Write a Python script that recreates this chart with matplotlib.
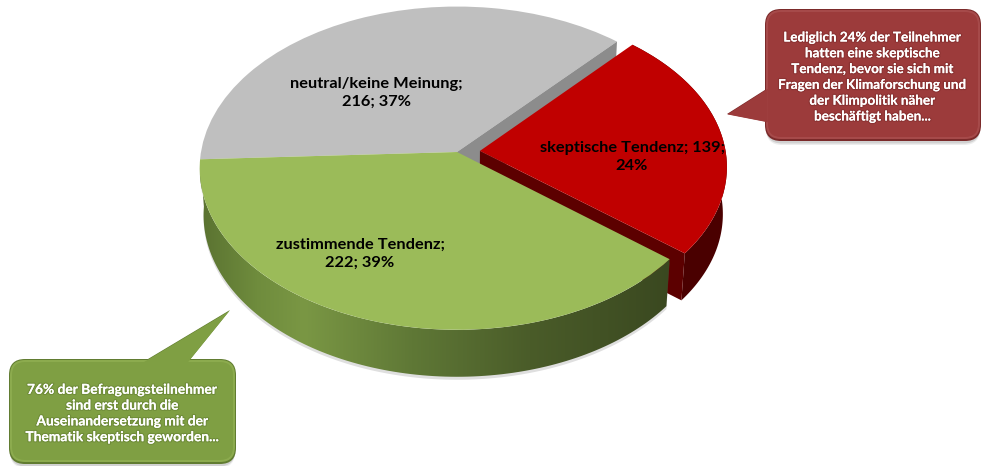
import numpy as np
import matplotlib
matplotlib.use('Agg')
import matplotlib.pyplot as plt
import matplotlib.transforms as mtransforms
import matplotlib.patheffects as pe
from matplotlib.colors import LinearSegmentedColormap
from matplotlib.patches import FancyBboxPatch, Polygon

# Daten
names = ['neutral/keine Meinung', 'skeptische Tendenz', 'zustimmende Tendenz']
values = [216, 139, 222]
percents = [37, 24, 39]
colors = ['#BFBFBF', '#C00000', '#9BBB59']
explode = [0, 0.09, 0]
text_red = ('Lediglich 24% der Teilnehmer\nhatten eine skeptische\nTendenz, bevor sie sich mit\n'
            'Fragen der Klimaforschung und\nder Klimpolitik näher\nbeschäftigt haben...')
text_green = ('76% der Befragungsteilnehmer\nsind erst durch die\nAuseinandersetzung mit der\n'
              'Thematik skeptisch geworden...')

W, H = 981, 466
CX, CY = 457, 152
RX, RY, K = 256, 160, 0.10
DEPTH = 47


class Persp(mtransforms.Transform):
    # Einheitskreis -> gekippte Scheibe in Pixelkoordinaten
    input_dims = 2
    output_dims = 2
    is_separable = False
    has_inverse = False

    def transform_non_affine(self, values):
        values = np.asarray(values, dtype=float)
        x, y = values[:, 0], values[:, 1]
        d = 1 + K * y
        return np.column_stack([CX + RX * x / d, CY - RY * y / d])


def side_polygon(points):
    bottom = points.copy()
    bottom[:, 0] = CX + (bottom[:, 0] - CX) * 0.985
    bottom[:, 1] += DEPTH
    return np.vstack([points, bottom[::-1]])


def arc_points(wedge, a1, a2, n=120):
    t = np.radians(np.linspace(a1, a2, n))
    cx, cy = wedge.center
    return persp.transform(np.column_stack([cx + wedge.r * np.cos(t), cy + wedge.r * np.sin(t)]))


def callout(ax, x0, y0, x1, y1, tail, color, edge, light, txt, fs):
    # Schatten
    for s, a in ((4, 0.10), (2.5, 0.18)):
        ax.add_patch(FancyBboxPatch((x0 + 1, y0 + s), x1 - x0 - 2, y1 - y0, boxstyle='round,pad=0,rounding_size=16',
                                    fc='#555555', ec='none', alpha=a, zorder=5))
    ax.add_patch(Polygon(tail, fc=edge, ec='none', zorder=6))
    ax.add_patch(FancyBboxPatch((x0, y0), x1 - x0, y1 - y0, boxstyle='round,pad=0,rounding_size=16',
                                fc=edge, ec='none', zorder=6))
    ax.add_patch(FancyBboxPatch((x0 + 1, y0 + 1), x1 - x0 - 2, y1 - y0 - 3, boxstyle='round,pad=0,rounding_size=15',
                                fc=light, ec='none', zorder=7))
    ax.add_patch(FancyBboxPatch((x0 + 3, y0 + 3), x1 - x0 - 6, y1 - y0 - 7, boxstyle='round,pad=0,rounding_size=13',
                                fc=color, ec='none', zorder=7))
    inner = np.array(tail, dtype=float)
    inner[:, 1] += 0.5
    ax.add_patch(Polygon(inner * 0.985 + np.array(tail).mean(axis=0) * 0.015, fc=color, ec='none', zorder=7))
    ax.text((x0 + x1) / 2, (y0 + y1) / 2 + 2, txt, ha='center', va='center', color='white', fontsize=fs,
            fontweight='bold', family='Lato', linespacing=1.38, zorder=8,
            path_effects=[pe.withStroke(linewidth=1.8, foreground=edge, alpha=0.5), pe.Normal()])


fig = plt.figure(figsize=(W / 100, H / 100), dpi=100)
ax = fig.add_axes([0, 0, 1, 1])

persp = Persp()
wedges, _ = ax.pie(values, colors=colors, explode=explode, startangle=182.6, counterclock=False, radius=1)
ax.set_aspect('auto')

for w in wedges:
    w.set_transform(persp + ax.transData)
    w.set_linewidth(0)

gray, red, green = wedges
red.set_radius(0.96)
gray.set_zorder(1)
red.set_zorder(3)
green.set_zorder(4.5)

# Schnittkante grau
tip = persp.transform(np.array([[np.cos(np.radians(gray.theta1)), np.sin(np.radians(gray.theta1))]]))[0]
ax.add_patch(Polygon(side_polygon(np.array([[CX, CY], tip])), fc='#8C8C8C', ec='none', zorder=1.5))

# rote Seite
red_arc = arc_points(red, red.theta1, red.theta2)
ax.add_patch(Polygon(side_polygon(red_arc), fc='#4A0000', ec='none', zorder=2))
apex = persp.transform(np.array([red.center]))[0]
ax.add_patch(Polygon(side_polygon(np.array([apex, red_arc[0]])), fc='#5C0000', ec='none', zorder=2.2))

# gruene Seite mit Verlauf
green_arc = arc_points(green, green.theta1, green.theta2)
side = side_polygon(green_arc)
shadow = side.copy()
shadow[:, 1] += 3
ax.add_patch(Polygon(shadow, fc='#808080', ec='none', alpha=0.25, zorder=3.5))
side_patch = Polygon(side, fc='none', ec='none', zorder=4)
ax.add_patch(side_patch)
cmap = LinearSegmentedColormap.from_list('gr', [(0, '#5A7231'), (0.12, '#6F8C3D'), (0.22, '#7A9744'),
                                                (0.45, '#5F7836'), (0.7, '#4A5C29'), (1, '#3A4820')])
img = ax.imshow(np.linspace(0, 1, 256).reshape(1, -1), cmap=cmap, aspect='auto', extent=(200, 672, 400, 150), zorder=4)
img.set_clip_path(side_patch)

# Beschriftung
label_pos = [(376, 93), (632, 157), (360, 254)]
label_txt = [f'{names[0]};\n{values[0]}; {percents[0]}%',
             f'{names[1]}; {values[1]};\n{percents[1]}%',
             f'{names[2]};\n{values[2]}; {percents[2]}%']
for (x, y), t in zip(label_pos, label_txt):
    ax.text(x, y, t, ha='center', va='center', color='black', fontsize=11.8, fontweight='bold', family='Lato',
            linespacing=1.37, zorder=9)

callout(ax, 765, 9, 981, 141, [(768, 88), (727, 114), (768, 122)], '#9C3B3B', '#7B2A2A', '#A64A4A', text_red, 9.7)
callout(ax, 9, 359, 236, 464, [(143, 362), (230, 310), (188, 362)], '#7F9F43', '#617C31', '#8CAB4E', text_green, 9.9)

ax.set_xlim(0, W)
ax.set_ylim(H, 0)
ax.axis('off')

fig.savefig('out.png', dpi=100)
